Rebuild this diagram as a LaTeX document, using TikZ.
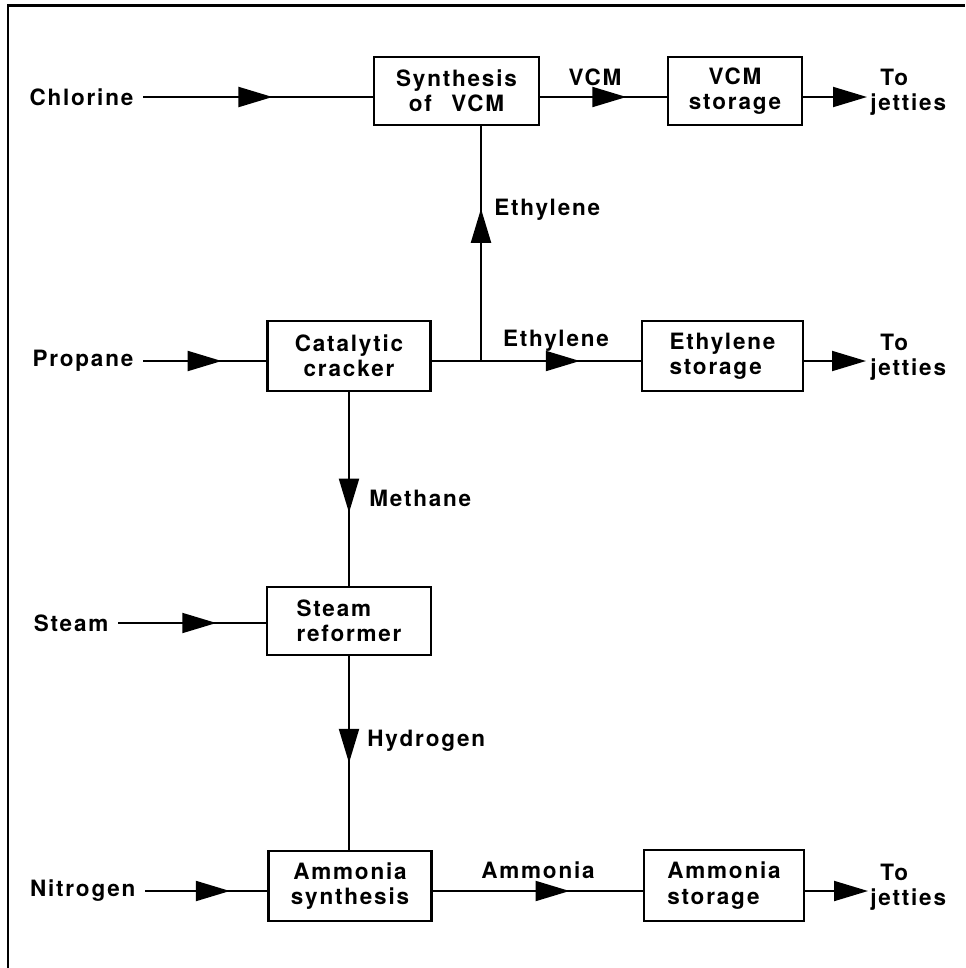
\documentclass[tikz,border=0pt]{standalone}
\usepackage{fontspec}
\setmainfont{TeX Gyre Heros}[LetterSpace=8]
\usetikzlibrary{arrows.meta, decorations.markings}

\tikzset{
  unit/.style = {draw, line width=1.2pt, inner sep=0pt, minimum width=3.26cm, minimum height=1.38cm},
  feed/.style = {inner sep=0pt, outer xsep=5.5pt, anchor=east},
  tag/.style = {inner sep=0pt},
  flow/.style = {line width=1.1pt, postaction={decorate},
    decoration={markings, mark=at position #1 with {\arrow{Triangle[length=0.68cm, width=0.4cm]}}}},
  tojetty/.style = {line width=1.1pt, -{Triangle[length=0.68cm, width=0.4cm]}}
}

\begin{document}
\begin{tikzpicture}[x=0.02cm, y=-0.02cm, font=\fontsize{12.8}{14.4}\selectfont\bfseries]

  \useasboundingbox (0,0) rectangle (965,968);

  % Frame
  \draw[line width=1.7pt] (8,968) -- (8,5) -- (965,5);

  % Units
  \node[unit, minimum width=3.3cm, minimum height=1.36cm, align=center] (synth) at (456.5,91) {Synthesis\\of\hspace{0.5em} VCM};
  \node[unit, minimum width=2.68cm, minimum height=1.36cm, align=center] (vcmstore) at (735,91) {VCM\\storage};
  \node[unit, minimum height=1.4cm, align=center] (cracker) at (349,356) {Catalytic\\cracker};
  \node[unit, minimum width=3.22cm, minimum height=1.4cm, align=left] (ethstore) at (722.5,356) {Ethylene\\storage};
  \node[unit, minimum width=3.28cm, minimum height=1.36cm, align=left] (reformer) at (349,621) {Steam\\reformer};
  \node[unit, minimum height=1.4cm, align=center] (ammsyn) at (350,886) {Ammonia\\synthesis};
  \node[unit, minimum width=3.2cm, minimum height=1.42cm, align=left] (ammstore) at (724,885.5) {Ammonia\\storage};

  % Feeds
  \node[feed] (chlorine) at (143,97) {Chlorine};
  \node[feed] (propane) at (143,361) {Propane};
  \node[feed] (steam) at (118,623) {Steam};
  \node[feed] (nitrogen) at (145,891) {Nitrogen};

  % Products to jetties
  \coordinate (jetty1) at (867,97);
  \coordinate (jetty2) at (866,361);
  \coordinate (jetty3) at (868,891);
  \node[tag, anchor=west, align=left] (tj1) at (870,92) {\hspace{0.45em}To\\jetties};
  \node[tag, anchor=west, align=left] (tj2) at (870,357) {\hspace{0.45em}To\\jetties};
  \node[tag, anchor=west, align=left] (tj3) at (870,887) {\hspace{0.45em}To\\jetties};

  % Split of the ethylene
  \coordinate (split) at (481,361);

  % Flows
  \draw[flow=0.563] (chlorine.east) -- (chlorine -| synth.west);
  \draw[flow=0.68] (synth.east |- chlorine) -- (vcmstore.west |- chlorine);
  \draw[tojetty] (vcmstore.east |- jetty1) -- (jetty1);

  \draw[flow=0.637] (propane.east) -- (propane -| cracker.west);
  \draw[flow=0.708] (cracker.east |- split) -- (split -| ethstore.west);
  \draw[flow=0.648] (split) -- (split |- synth.south);
  \draw[tojetty] (ethstore.east |- jetty2) -- (jetty2);

  \draw[flow=0.622] (cracker.south) -- (cracker.south |- reformer.north);
  \draw[flow=0.664] (steam.east) -- (steam -| reformer.west);
  \draw[flow=0.551] (reformer.south) -- (reformer.south |- ammsyn.north);

  \draw[flow=0.693] (nitrogen.east) -- (nitrogen -| ammsyn.west);
  \draw[flow=0.651] (ammsyn.east |- nitrogen) -- (ammstore.west |- nitrogen);
  \draw[tojetty] (ammstore.east |- jetty3) -- (jetty3);

  % Stream labels
  \node[tag] (vcmlbl) at (595,77) {VCM};
  \node[tag, anchor=west] (ethuplbl) at (494,210) {Ethylene};
  \node[tag] (ethlbl) at (556,341) {Ethylene};
  \node[tag, anchor=west] (methlbl) at (369,498) {Methane};
  \node[tag, anchor=west] (hydlbl) at (367,741) {Hydrogen};
  \node[tag] (ammlbl) at (538,870) {Ammonia};

\end{tikzpicture}
\end{document}
